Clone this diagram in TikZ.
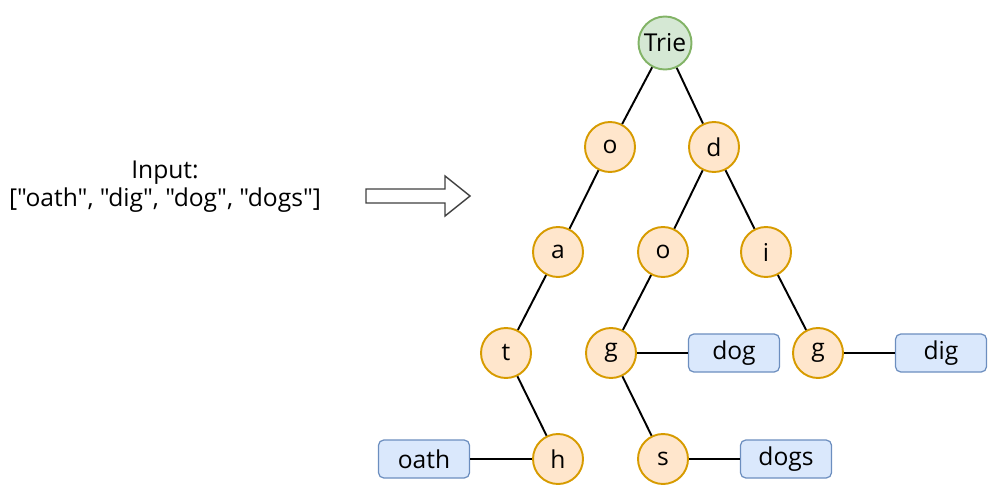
\documentclass[tikz,border=0pt]{standalone}
\usepackage{fontspec}
\setmainfont{Open Sans}[Ligatures=TeXOff]
\usetikzlibrary{positioning, shapes.geometric, arrows.meta}
\definecolor{letterfill}{HTML}{FFE6CC}
\definecolor{letterdraw}{HTML}{D79B00}
\definecolor{rootfill}{HTML}{D5E8D4}
\definecolor{rootdraw}{HTML}{82B366}
\definecolor{wordfill}{HTML}{DAE8FC}
\definecolor{worddraw}{HTML}{6C8EBF}

\begin{document}
\begin{tikzpicture} [font=\fontsize{14}{16}\selectfont,
    letter/.style={circle, draw=letterdraw, fill=letterfill, line width=1.1pt, minimum size=1cm, inner sep=0pt},
    rootnode/.style={circle, draw=rootdraw, fill=rootfill, line width=1.1pt, minimum size=1.06cm, inner sep=0pt},
    wordbox/.style={rectangle, rounded corners=3pt, draw=worddraw, fill=wordfill, line width=0.7pt, minimum width=1.82cm, minimum height=0.76cm},
    link/.style={line width=1.1pt}]
  \useasboundingbox (0,0) rectangle (20.12,9.92);

  \draw (13.30,9.06) node[rootnode] (root) {Trie};

  \draw (12.20,6.98) node[letter] (o1) {o};
  \draw (14.28,6.98) node[letter] (d1) {d};

  \draw (11.16,4.88) node[letter] (a1) {a};
  \draw (13.26,4.88) node[letter] (o2) {o};
  \draw (15.32,4.88) node[letter] (i1) {i};

  \draw (10.12,2.86) node[letter] (t1) {t};
  \draw (12.22,2.86) node[letter] (g1) {g};
  \draw (16.36,2.86) node[letter] (g2) {g};

  \draw (11.16,0.74) node[letter] (h1) {h};
  \draw (13.26,0.74) node[letter] (s1) {s};

  \draw (14.68,2.86) node[wordbox] (dog) {dog};
  \draw (18.82,2.86) node[wordbox] (dig) {dig};
  \draw (8.48,0.74) node[wordbox] (oath) {oath};
  \draw (15.72,0.74) node[wordbox] (dogs) {dogs};

  \draw (3.30,6.18) node[align=center] (input)
    {Input:\\{}["oath", "dig", "dog", "dogs"]};

  \path (root) edge[link] (o1)
        (root) edge[link] (d1)
        (o1) edge[link] (a1)
        (a1) edge[link] (t1)
        (t1) edge[link] (h1)
        (d1) edge[link] (o2)
        (d1) edge[link] (i1)
        (o2) edge[link] (g1)
        (g1) edge[link] (s1)
        (i1) edge[link] (g2);
  \path (g1) edge[link] (dog)
        (g2) edge[link] (dig)
        (h1) edge[link] (oath)
        (s1) edge[link] (dogs);

  % hollow arrow
  \draw [line width=0.8pt, fill=white, draw=black!75]
    (7.32,6.14) -- (8.90,6.14) -- (8.90,6.40) -- (9.40,6.00)
    -- (8.90,5.60) -- (8.90,5.86) -- (7.32,5.86) -- cycle;
\end{tikzpicture}
\end{document}
